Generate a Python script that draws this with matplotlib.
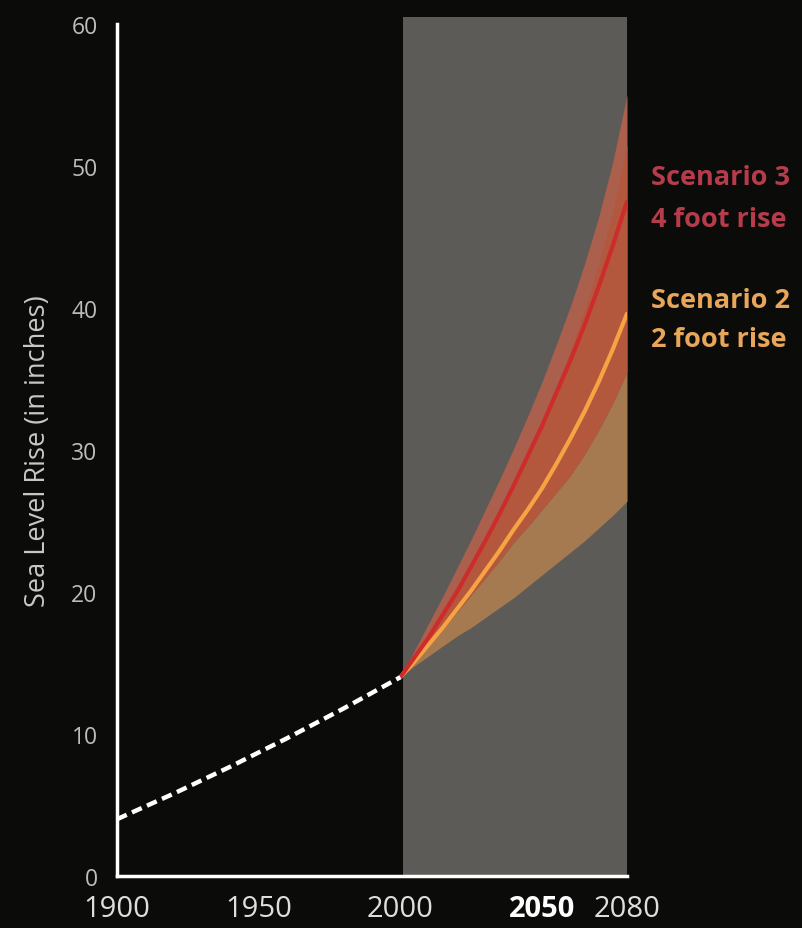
import numpy as np
import matplotlib
matplotlib.use('Agg')
import matplotlib.pyplot as plt
from matplotlib.patches import Rectangle

# observed record (dashed)
hist_years = [1900, 1920, 1940, 1960, 1980, 2000]
hist_rise = [4.0, 5.8, 7.7, 9.7, 11.8, 14.0]

# projections, every 5 years
proj_years = [2000, 2005, 2010, 2015, 2020, 2025, 2030, 2035, 2040,
              2045, 2050, 2055, 2060, 2065, 2070, 2075, 2080]
s3_mid = [14.0, 15.4, 16.8, 18.4, 20.0, 21.8, 23.6, 25.5, 27.5,
          29.6, 31.7, 34.0, 36.3, 38.8, 41.5, 44.4, 47.5]
s3_low = [14.0, 15.1, 16.2, 17.4, 18.6, 19.8, 21.0, 22.2, 23.5,
          24.6, 25.8, 27.0, 28.2, 29.7, 31.4, 33.3, 35.5]
s3_high = [14.0, 15.9, 17.8, 19.7, 21.7, 23.7, 25.8, 27.9, 30.1,
           32.4, 34.8, 37.4, 40.1, 43.1, 46.4, 50.3, 55.0]
s2_mid = [14.0, 15.1, 16.3, 17.5, 18.8, 20.1, 21.5, 22.9, 24.4,
          25.8, 27.3, 29.0, 30.8, 32.7, 34.8, 37.1, 39.6]
s2_low = [14.0, 14.8, 15.5, 16.2, 16.9, 17.5, 18.2, 18.9, 19.6,
          20.4, 21.2, 22.0, 22.8, 23.6, 24.5, 25.4, 26.4]
s2_high = [14.0, 15.6, 17.2, 18.8, 20.5, 22.1, 23.8, 25.6, 27.5,
           29.6, 32.0, 34.4, 37.0, 39.9, 43.0, 46.8, 51.5]

xticks = [1900, 1950, 2000, 2050, 2080]
yticks = [0, 10, 20, 30, 40, 50, 60]

bg = '#0b0b0a'
plt.rcParams['font.family'] = ['Open Sans', 'DejaVu Sans']

fig = plt.figure(figsize=(8.03, 9.29), dpi=100, facecolor=bg)
ax = fig.add_axes([117/803, 52/929, 510/803, 852/929], facecolor=bg)
ax.set_xlim(1900, 2080)
ax.set_ylim(0, 60)

# future period shading
ax.add_patch(Rectangle((2001, 0), 79, 60.5, facecolor='#5d5b57', edgecolor='none',
                       clip_on=False, zorder=0))

# bands
ax.fill_between(proj_years, s2_low, s3_low, color='#a67a51', lw=0, zorder=1)
ax.fill_between(proj_years, s3_low, s3_high, color='#ab604d', lw=0, zorder=1)
ax.fill_between(proj_years, s3_low, s2_high, color='#b3583d', lw=0, zorder=2)

ax.plot(proj_years, s2_mid, color='#f7a243', lw=3, zorder=3, solid_capstyle='round')
ax.plot(proj_years, s3_mid, color='#cc2c2c', lw=3, zorder=4, solid_capstyle='round')
ax.plot(hist_years, hist_rise, color='white', lw=3.2, dashes=(2.4, 1.3), zorder=5)

for s in ['top', 'right']:
    ax.spines[s].set_visible(False)
for s in ['left', 'bottom']:
    ax.spines[s].set_color('white')
    ax.spines[s].set_linewidth(2.5)
    ax.spines[s].set_zorder(6)

ax.set_xticks(xticks)
ax.set_xticklabels([str(t) for t in xticks])
ax.set_yticks(yticks)
ax.tick_params(axis='x', length=0, pad=13, labelsize=21, labelcolor='#dedede')
ax.tick_params(axis='y', length=0, pad=14, labelsize=16.5, labelcolor='#bdbdbd')
for lab in ax.get_xticklabels():
    if lab.get_text() == '2050':
        lab.set_fontweight('bold')
        lab.set_color('white')

ax.set_ylabel('Sea Level Rise (in inches)', fontsize=19.5, color='#c8c8c8', labelpad=14)

ax.text(2088.5, 48.7, 'Scenario 3', color='#b53c4a', fontsize=19.5, fontweight='bold',
        ha='left', va='baseline', clip_on=False)
ax.text(2088.5, 45.8, '4 foot rise', color='#b53c4a', fontsize=19.5, fontweight='bold',
        ha='left', va='baseline', clip_on=False)
ax.text(2088.5, 40.1, 'Scenario 2', color='#e8a65a', fontsize=19.5, fontweight='bold',
        ha='left', va='baseline', clip_on=False)
ax.text(2088.5, 37.3, '2 foot rise', color='#e8a65a', fontsize=19.5, fontweight='bold',
        ha='left', va='baseline', clip_on=False)

fig.savefig('out.png', dpi=100, facecolor=bg)
